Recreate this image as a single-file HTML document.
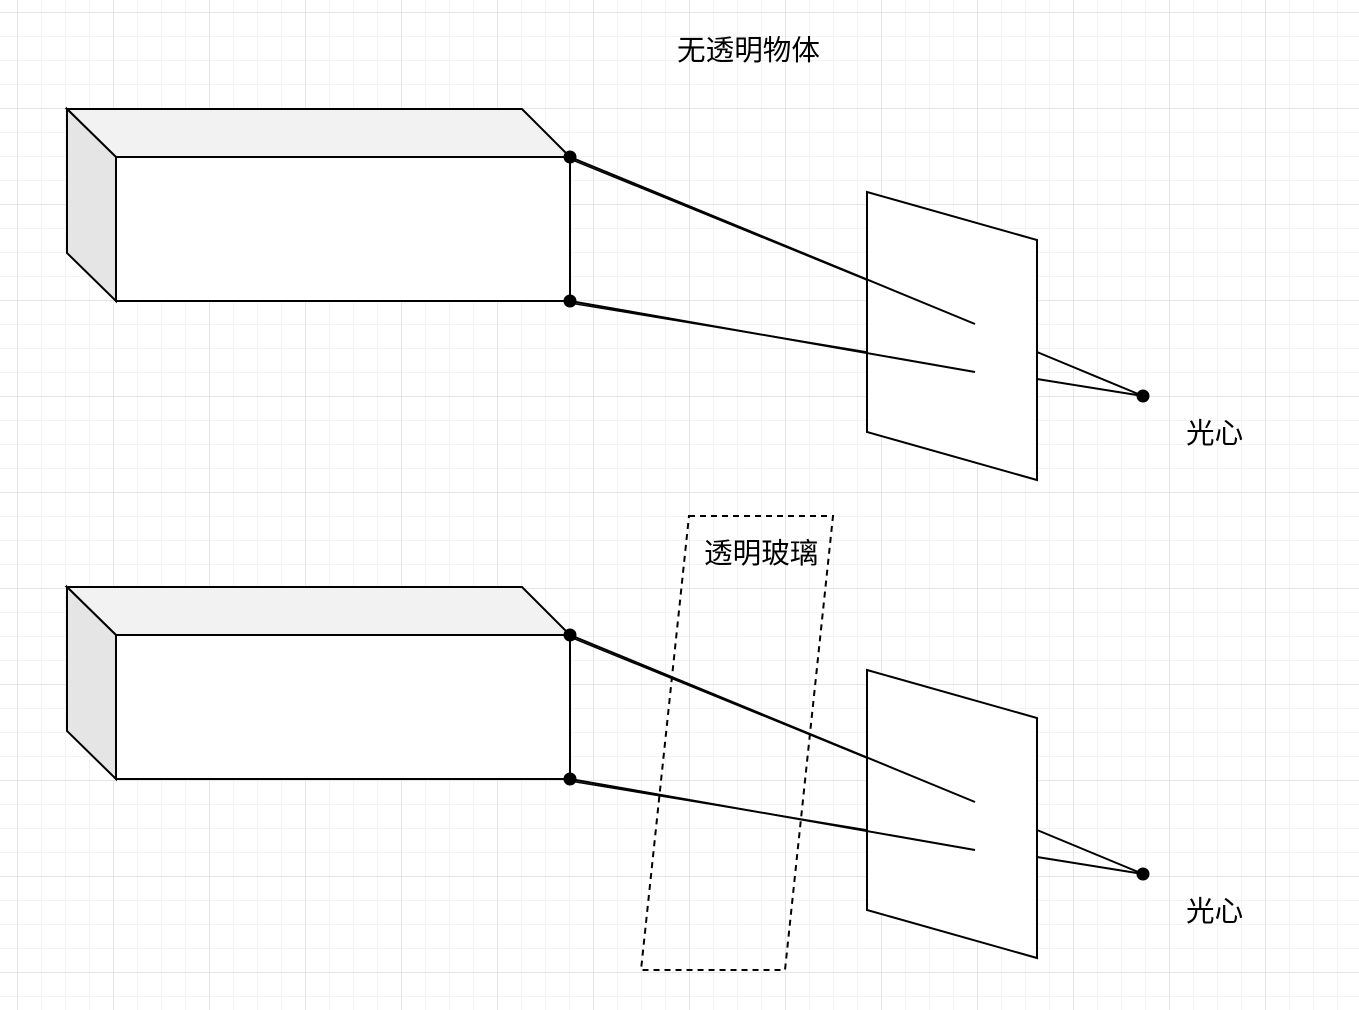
<!DOCTYPE html>
<html><head><meta charset="utf-8"><style>
html,body{margin:0;padding:0;background:#fff;}
svg{display:block;}
text{font-family:"Liberation Sans","Noto Sans CJK SC",sans-serif;font-size:28.6px;fill:#000;}
</style></head><body>
<svg width="1359" height="1010" viewBox="0 0 1359 1010">
<defs>
<pattern id="minor" x="17" y="12" width="24" height="24" patternUnits="userSpaceOnUse">
<path d="M0 0H24M0 0V24" stroke="#efefef" stroke-width="1.5" fill="none"/>
</pattern>
<pattern id="major" x="17" y="12" width="96" height="96" patternUnits="userSpaceOnUse">
<path d="M0 0H96M0 0V96" stroke="#d9d9d9" stroke-width="1.2" fill="none"/>
</pattern>
<g id="scene">
<polygon points="67,109 522,109 570,157 116,157" fill="#f2f2f2" stroke="#000" stroke-width="2"/>
<polygon points="67,109 116,157 116,301 67,253" fill="#e5e5e5" stroke="#000" stroke-width="2"/>
<rect x="116" y="157" width="454" height="144" fill="#fff" stroke="#000" stroke-width="2"/>
<polygon points="867,192 1037,240 1037,480 867,432" fill="#fff" stroke="#000" stroke-width="2"/>
<line x1="570" y1="157" x2="975" y2="324" stroke="#000" stroke-width="2"/>
<line x1="570" y1="159" x2="867" y2="280" stroke="#000" stroke-width="1.5"/>
<line x1="570" y1="301" x2="975" y2="372" stroke="#000" stroke-width="2"/>
<line x1="570" y1="303" x2="867" y2="352" stroke="#000" stroke-width="1.5"/>
<line x1="1037" y1="352" x2="1143" y2="396" stroke="#000" stroke-width="2"/>
<line x1="1037" y1="379" x2="1143" y2="396" stroke="#000" stroke-width="2"/>
<circle cx="570" cy="157" r="6.5" fill="#000"/>
<circle cx="570" cy="301" r="6.5" fill="#000"/>
<circle cx="1143" cy="396" r="6.5" fill="#000"/>
<text x="1186" y="443">光心</text>
</g>
</defs>
<rect width="1359" height="1010" fill="#fff"/>
<rect width="1359" height="1010" fill="url(#minor)"/>
<rect width="1359" height="1010" fill="url(#major)"/>
<text x="677" y="60">无透明物体</text>
<use href="#scene"/>
<use href="#scene" y="478"/>
<polygon points="689,516 833,516 785,970 641,970" fill="none" stroke="#000" stroke-width="2" stroke-dasharray="6,5"/>
<text x="704" y="563">透明玻璃</text>
</svg>
</body></html>
